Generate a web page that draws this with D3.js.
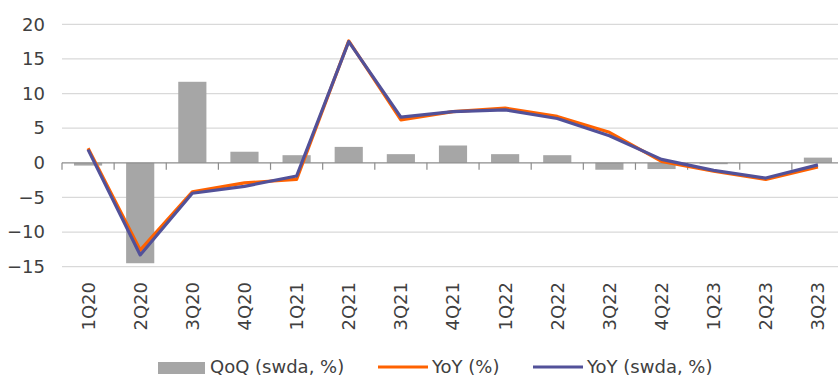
<!DOCTYPE html>
<html>
<head>
<meta charset="utf-8">
<script src="https://cdn.jsdelivr.net/npm/d3@7"></script>
<style>
  html, body { margin: 0; padding: 0; background: #fff; }
  svg { display: block; }
  text { font-family: "DejaVu Sans", sans-serif; fill: #404040; }
</style>
</head>
<body>
<svg id="chart" width="838" height="376"></svg>
<script>
// Quarters on the category axis
const quarters = ["1Q20","2Q20","3Q20","4Q20","1Q21","2Q21","3Q21","4Q21",
                  "1Q22","2Q22","3Q22","4Q22","1Q23","2Q23","3Q23"];
// Quarter-on-quarter growth, seasonally and working-day adjusted (%)
const qoqSwda = [-0.4, -14.5, 11.7, 1.6, 1.1, 2.3, 1.25, 2.5, 1.25, 1.1, -1.0, -0.9, -0.2, 0.0, 0.75];
// Year-on-year growth, unadjusted (%)
const yoy     = [2.1, -12.6, -4.2, -2.9, -2.4, 17.6, 6.2, 7.4, 7.9, 6.7, 4.4, 0.2, -1.2, -2.4, -0.6];
// Year-on-year growth, seasonally and working-day adjusted (%)
const yoySwda = [1.9, -13.3, -4.4, -3.4, -1.9, 17.5, 6.6, 7.4, 7.65, 6.4, 3.9, 0.5, -1.1, -2.2, -0.3];
// Value-axis ticks
const yTicks = [20, 15, 10, 5, 0, -5, -10, -15];

const legendItems = [
  { label: "QoQ (swda, %)", kind: "bar",  color: "#a6a6a6" },
  { label: "YoY (%)",       kind: "line", color: "#ff6200" },
  { label: "YoY (swda, %)", kind: "line", color: "#525199" }
];

const svg = d3.select("#chart");
const left = 62, right = 844;

const x = d3.scaleBand().domain(quarters).range([left, right]).paddingInner(0.46).paddingOuter(0.23);
const xc = d => x(d) + x.bandwidth() / 2;
const y = d3.scaleLinear().domain([-15, 20]).range([266.7, 24.3]);

// Horizontal gridlines
svg.append("g").selectAll("line").data(yTicks.filter(t => t !== 0)).join("line")
  .attr("x1", left).attr("x2", 838)
  .attr("y1", d => y(d)).attr("y2", d => y(d))
  .attr("stroke", "#d9d9d9").attr("stroke-width", 1.3);

// Y-axis labels
const yAxis = d3.axisLeft(y).tickValues(yTicks).tickSize(0).tickPadding(0).tickFormat(d3.format("d"));
svg.append("g").attr("transform", "translate(45,0)").call(yAxis)
  .call(g => g.select(".domain").remove())
  .call(g => g.selectAll("text").attr("font-size", 18).attr("font-family", "DejaVu Sans, sans-serif").attr("fill", "#404040"));

// QoQ bars
svg.append("g").selectAll("rect").data(quarters).join("rect")
  .attr("x", d => x(d))
  .attr("width", x.bandwidth())
  .attr("y", (d, i) => y(Math.max(0, qoqSwda[i])))
  .attr("height", (d, i) => Math.abs(y(qoqSwda[i]) - y(0)))
  .attr("fill", "#a6a6a6");

// Zero line with category ticks between quarters
const step = x.step();
svg.append("line").attr("x1", left).attr("x2", 838).attr("y1", y(0)).attr("y2", y(0))
  .attr("stroke", "#8c8c8c").attr("stroke-width", 1.3);
svg.append("g").selectAll("line").data(d3.range(quarters.length + 1)).join("line")
  .attr("x1", i => left + i * (right - left) / quarters.length)
  .attr("x2", i => left + i * (right - left) / quarters.length)
  .attr("y1", y(0)).attr("y2", y(0) + 7)
  .attr("stroke", "#8c8c8c").attr("stroke-width", 1.2);

// YoY lines
const line = d3.line().x((v, i) => xc(quarters[i])).y(v => y(v));
svg.append("path").datum(yoy).attr("d", line)
  .attr("fill", "none").attr("stroke", "#ff6200").attr("stroke-width", 3.2).attr("stroke-linejoin", "round");
svg.append("path").datum(yoySwda).attr("d", line)
  .attr("fill", "none").attr("stroke", "#525199").attr("stroke-width", 3.2).attr("stroke-linejoin", "round");

// Rotated quarter labels
svg.append("g").selectAll("text").data(quarters).join("text")
  .attr("transform", d => `translate(${xc(d)},282) rotate(-90)`)
  .attr("text-anchor", "end").attr("dy", "0.36em")
  .attr("font-size", 18)
  .text(d => d);

// Legend
const legendX = [158, 378, 533];
const lg = svg.append("g").selectAll("g").data(legendItems).join("g")
  .attr("transform", (d, i) => `translate(${legendX[i]},0)`);
lg.filter(d => d.kind === "bar").append("rect")
  .attr("x", 0).attr("y", 362).attr("width", 47).attr("height", 12).attr("fill", d => d.color);
lg.filter(d => d.kind === "line").append("line")
  .attr("x1", 0).attr("x2", 50).attr("y1", 367).attr("y2", 367)
  .attr("stroke", d => d.color).attr("stroke-width", 3);
lg.append("text")
  .attr("x", d => d.kind === "bar" ? 52 : 54)
  .attr("y", 373).attr("font-size", 18)
  .text(d => d.label);
</script>
</body>
</html>
